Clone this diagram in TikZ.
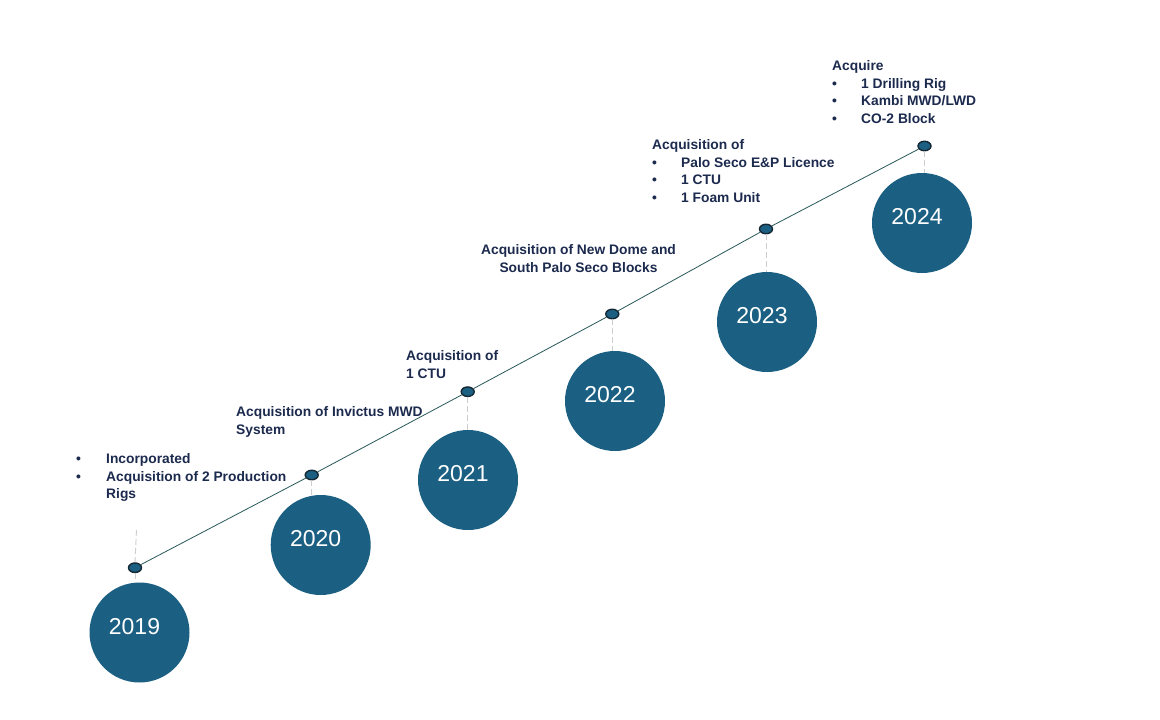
\documentclass[tikz,border=0pt]{standalone}
\usepackage{fontspec}
\setmainfont{Liberation Sans}
\usetikzlibrary{shapes.geometric}
\definecolor{circ}{RGB}{27,96,130}
\definecolor{navy}{RGB}{28,42,78}
\definecolor{tl}{RGB}{40,88,88}
\definecolor{dashg}{RGB}{205,205,205}
\definecolor{dotb}{RGB}{22,40,52}
\newcommand\bulitem[1]{\makebox[#1][l]{•}}
\begin{document}
\begin{tikzpicture}[x=1pt,y=-1pt,
 year/.style={circle,fill=circ,minimum size=100pt,inner sep=0},
 yeartxt/.style={text=white,font=\fontsize{23}{25}\selectfont,inner sep=0},
 dotnode/.style={ellipse,draw=dotb,line width=1.4pt,fill=circ,minimum width=13pt,minimum height=9.5pt,inner sep=0},
 tline/.style={draw=tl,line width=0.8pt},
 dashline/.style={draw=dashg,line width=0.9pt,dash pattern=on 6pt off 3pt},
 lab/.style={text=navy,font=\bfseries\fontsize{13.8}{17.5}\selectfont,inner sep=0,align=left}
]
\useasboundingbox[fill=white] (0,0) rectangle (1160,720);

% year circles
\node[year] (c19) at (139.5,632.5) {};
\node[year] (c20) at (320.7,545) {};
\node[year] (c21) at (468,480) {};
\node[year] (c22) at (615,401) {};
\node[year] (c23) at (767,322) {};
\node[year] (c24) at (922,223) {};

\node[yeartxt] (t19) at ([xshift=-5pt,yshift=6pt]c19.center) {2019};
\node[yeartxt] (t20) at ([xshift=-5pt,yshift=6pt]c20.center) {2020};
\node[yeartxt] (t21) at ([xshift=-5pt,yshift=6pt]c21.center) {2021};
\node[yeartxt] (t22) at ([xshift=-5pt,yshift=6pt]c22.center) {2022};
\node[yeartxt] (t23) at ([xshift=-5pt,yshift=6pt]c23.center) {2023};
\node[yeartxt] (t24) at ([xshift=-5pt,yshift=6pt]c24.center) {2024};

% dots
\node[dotnode] (d19) at (135,567.7) {};
\node[dotnode] (d20) at (311.7,475) {};
\node[dotnode] (d21) at (467.7,391.7) {};
\node[dotnode] (d22) at (612.3,314) {};
\node[dotnode] (d23) at (766,229) {};
\node[dotnode] (d24) at (924.5,146) {};

% dashed connectors
\coordinate (u19) at (136.5,530);
\draw[dashline] (u19) -- (d19.north);
\draw[dashline] (d19.south) -- (d19.south |- c19.north);
\draw[dashline] (d20.south) -- (d20.south |- c20.north);
\draw[dashline] (d21.south) -- (d21.south |- c21.north);
\draw[dashline] (d22.south) -- (d22.south |- c22.north);
\draw[dashline] (d23.south) -- (d23.south |- c23.north);
\draw[dashline] (d24.south) -- (d24.south |- c24.north);

% timeline
\draw[tline] (d19) -- (d20);
\draw[tline] (d20) -- (d21);
\draw[tline] (d21) -- (d22);
\draw[tline] (d22) -- (d23);
\draw[tline] (d23) -- (d24);

% labels
\node[lab,anchor=north west] (l19) at (76,453.5) {\bulitem{30pt}Incorporated\\\bulitem{30pt}Acquisition of 2 Production\\\hspace*{30pt}Rigs};
\node[lab,anchor=north west] (l20) at (236,406.5) {Acquisition of Invictus MWD\\System};
\node[lab,anchor=north west] (l21) at (406,350.5) {Acquisition of\\1 CTU};
\node[lab,anchor=north,align=center] (l22) at (578.5,244.5) {Acquisition of New Dome and\\South Palo Seco Blocks};
\node[lab,anchor=north west] (l23) at (652,139.5) {Acquisition of\\\bulitem{29pt}Palo Seco E\&P Licence\\\bulitem{29pt}1 CTU\\\bulitem{29pt}1 Foam Unit};
\node[lab,anchor=north west] (l24) at (832,60.5) {Acquire\\\bulitem{29pt}1 Drilling Rig\\\bulitem{29pt}Kambi MWD/LWD\\\bulitem{29pt}CO-2 Block};
\end{tikzpicture}
\end{document}
